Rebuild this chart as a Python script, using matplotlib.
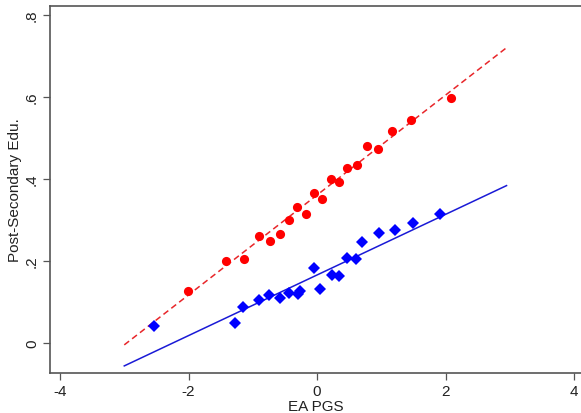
"""
Post-secondary education rate by EA polygenic score, binned scatter with fitted lines.
"""

import matplotlib
matplotlib.use("Agg")
import matplotlib.pyplot as plot
import numpy

plot.rcParams["font.family"] = ["Liberation Sans", "DejaVu Sans"]
plot.rcParams["axes.unicode_minus"] = False

# binned means, group shown in red (circles)
red_x = [-2.01, -1.42, -1.13, -0.91, -0.73, -0.58, -0.44, -0.31, -0.17, -0.04,
         0.07, 0.21, 0.34, 0.47, 0.62, 0.78, 0.95, 1.17, 1.47, 2.09]
red_y = [0.126, 0.199, 0.204, 0.261, 0.250, 0.267, 0.301, 0.331, 0.315, 0.366,
         0.351, 0.400, 0.392, 0.428, 0.434, 0.481, 0.474, 0.518, 0.544, 0.598]

# binned means, group shown in blue (diamonds)
blue_x = [-2.53, -1.28, -1.15, -0.90, -0.74, -0.57, -0.44, -0.30, -0.26, -0.04,
          0.05, 0.23, 0.35, 0.47, 0.60, 0.70, 0.96, 1.21, 1.49, 1.92]
blue_y = [0.042, 0.048, 0.089, 0.106, 0.117, 0.110, 0.122, 0.120, 0.128, 0.184,
          0.132, 0.166, 0.163, 0.208, 0.204, 0.247, 0.268, 0.276, 0.292, 0.314]

# fitted lines: intercept, slope, drawn over this range
red_fit = (0.361, 0.1218)
blue_fit = (0.166, 0.0739)
fit_range = [-3.0, 2.95]

x_ticks = [-4, -2, 0, 2, 4]
y_ticks = [0, 0.2, 0.4, 0.6, 0.8]
y_tick_labels = ["0", ".2", ".4", ".6", ".8"]

figure = plot.figure(figsize=(5.81, 4.14), dpi=100)
axes = figure.add_axes([50 / 581, 40 / 414, 531 / 581, 367 / 414])

fit_x = numpy.array(fit_range)
axes.plot(fit_x, red_fit[0] + red_fit[1] * fit_x, color="#e8262a",
          linestyle=(0, (4, 2.5)), linewidth=1.1, zorder=2)
axes.plot(fit_x, blue_fit[0] + blue_fit[1] * fit_x, color="#1a1ad6",
          linewidth=1.1, zorder=2)

axes.plot(red_x, red_y, "o", color="#ff0000", markersize=6.6,
          markeredgewidth=0, zorder=3)
axes.plot(blue_x, blue_y, "D", color="#0000ff", markersize=6.0,
          markeredgewidth=0, zorder=3)

axes.set_xlim(-4.156, 4.109)
axes.set_ylim(-0.073, 0.822)

axes.set_xticks(x_ticks)
axes.set_yticks(y_ticks)
axes.set_yticklabels(y_tick_labels, rotation=90, va="center")

spine_color = "#555555"
for side in ["left", "bottom", "top"]:
  axes.spines[side].set_color(spine_color)
  axes.spines[side].set_linewidth(1.2)
axes.spines["right"].set_visible(False)

axes.tick_params(direction="out", length=5, width=0.9, color=spine_color,
                 labelsize=11, labelcolor="#222222", pad=3)

axes.set_xlabel("EA PGS", fontsize=11, color="#222222", labelpad=1)
axes.set_ylabel("Post-Secondary Edu.", fontsize=11, color="#222222", labelpad=2)

figure.savefig("out.png", dpi=100)
plot.close()
